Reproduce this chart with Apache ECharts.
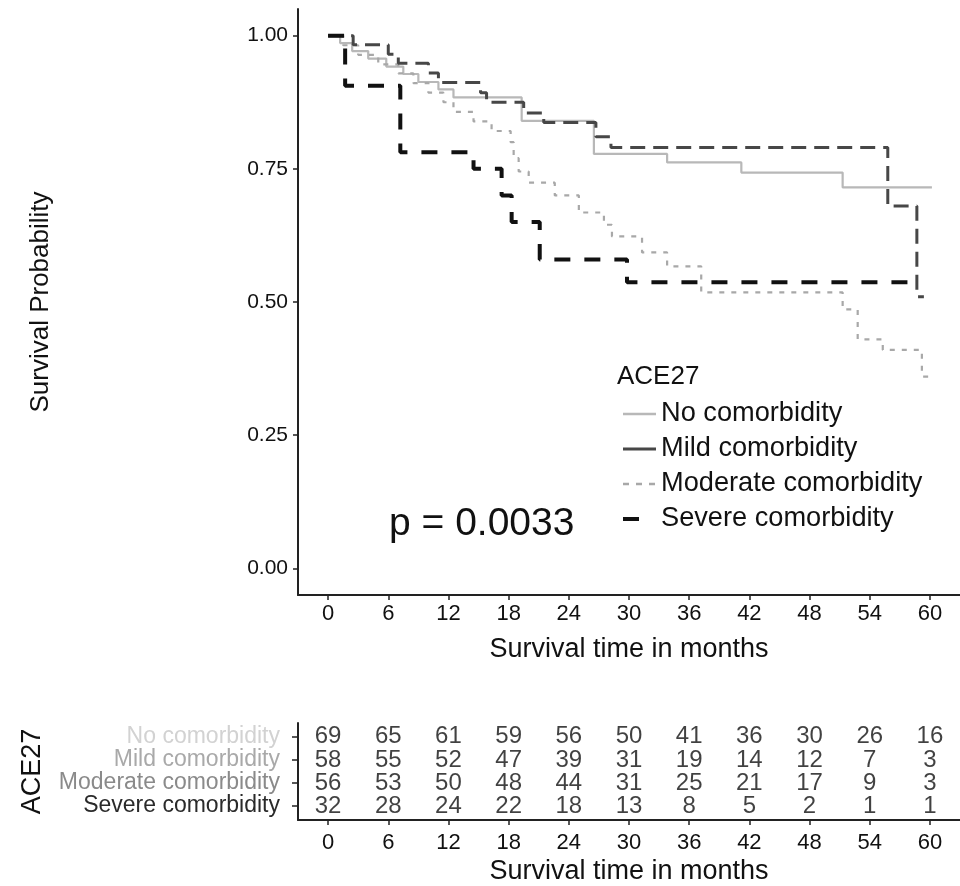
<!DOCTYPE html>
<html>
<head>
<meta charset="utf-8">
<script src="https://cdn.jsdelivr.net/npm/echarts@6/dist/echarts.min.js"></script>
<style>
  html, body { margin: 0; padding: 0; background: #fff; }
  #chart { width: 960px; height: 886px; }
</style>
</head>
<body>
<div id="chart"></div>
<script>
// Kaplan-Meier curves (months, survival)
const noTime = [0, 1.2, 2.4, 4, 5.8, 7.5, 9, 11, 12.5, 19.3, 26.5, 33.8, 41.2, 51.3, 60.2]
const noSurv = [1, 0.986, 0.971, 0.957, 0.942, 0.928, 0.913, 0.899, 0.884, 0.84, 0.778, 0.762, 0.743, 0.715, 0.715]

const mildTime = [0, 2.5, 6, 7, 10, 11, 15.2, 15.8, 19.5, 21.5, 26.7, 28.2, 55.8, 58.7, 59.4]
const mildSurv = [1, 0.983, 0.965, 0.948, 0.93, 0.912, 0.893, 0.875, 0.855, 0.837, 0.81, 0.79, 0.68, 0.51, 0.51]

const modTime = [0, 1.5, 3, 5, 7, 8.5, 10, 11.5, 12.5, 14.5, 16.3, 18.2, 18.5, 19, 20, 22.6, 25, 27.5, 28.3, 31.3, 33.8, 37.2, 51.3, 52.8, 55.3, 59.2, 60]
const modSurv = [1, 0.982, 0.964, 0.946, 0.929, 0.911, 0.893, 0.875, 0.857, 0.839, 0.821, 0.8, 0.77, 0.745, 0.724, 0.7, 0.668, 0.645, 0.623, 0.593, 0.567, 0.518, 0.486, 0.43, 0.41, 0.36, 0.36]

const sevTime = [0, 1.7, 7.2, 14.5, 17.3, 18.3, 21.1, 29.8, 59]
const sevSurv = [1, 0.906, 0.781, 0.75, 0.7, 0.65, 0.58, 0.537, 0.537]

// number at risk table
const riskTimes = [0, 6, 12, 18, 24, 30, 36, 42, 48, 54, 60]
const noRisk = [69, 65, 61, 59, 56, 50, 41, 36, 30, 26, 16]
const mildRisk = [58, 55, 52, 47, 39, 31, 19, 14, 12, 7, 3]
const modRisk = [56, 53, 50, 48, 44, 31, 25, 21, 17, 9, 3]
const sevRisk = [32, 28, 24, 22, 18, 13, 8, 5, 2, 1, 1]

const groups = ['No comorbidity', 'Mild comorbidity', 'Moderate comorbidity', 'Severe comorbidity']
const yTicks = [0, 0.25, 0.5, 0.75, 1]
const pText = 'p = 0.0033'

const FONT = '"Liberation Sans", Arial, Helvetica, sans-serif'
const AXIS_COLOR = '#222'

function pairs(xs, ys) {
  return xs.map((x, i) => [x, ys[i]])
}

function riskRows() {
  const rows = [noRisk, mildRisk, modRisk, sevRisk]
  const out = []
  rows.forEach((row, r) => {
    row.forEach((n, i) => {
      out.push([riskTimes[i], 4 - r, n])
    })
  })
  return out
}

const rowColors = ['#d2d2d2', '#a9a9a9', '#8a8a8a', '#2a2a2a']

const chart = echarts.init(document.getElementById('chart'), null, { renderer: 'canvas' })

const xCommon = {
  type: 'value',
  min: -3,
  max: 63,
  axisLine: { show: true, onZero: false, lineStyle: { color: AXIS_COLOR, width: 2 } },
  axisTick: { show: true, length: 5, customValues: riskTimes, lineStyle: { color: AXIS_COLOR, width: 1.5 } },
  splitLine: { show: false },
  nameLocation: 'middle',
  nameTextStyle: { fontFamily: FONT, fontSize: 27, color: '#111' }
}

chart.setOption({
  animation: false,
  backgroundColor: '#fff',
  textStyle: { fontFamily: FONT },
  grid: [
    { left: 298, top: 9, width: 668, height: 586 },
    { left: 298, top: 723, width: 668, height: 98 }
  ],
  xAxis: [
    Object.assign({}, xCommon, {
      gridIndex: 0,
      name: 'Survival time in months',
      nameGap: 41,
      axisLabel: { customValues: riskTimes, margin: 8, fontSize: 22, color: '#111', fontFamily: FONT }
    }),
    Object.assign({}, xCommon, {
      gridIndex: 1,
      name: 'Survival time in months',
      nameGap: 38,
      axisLabel: { customValues: riskTimes, margin: 12, fontSize: 22, color: '#111', fontFamily: FONT }
    })
  ],
  yAxis: [
    {
      type: 'value',
      gridIndex: 0,
      min: -0.05,
      max: 1.05,
      name: 'Survival Probability',
      nameLocation: 'middle',
      nameGap: 244,
      nameTextStyle: { fontFamily: FONT, fontSize: 26, color: '#111' },
      axisLine: { show: true, onZero: false, lineStyle: { color: AXIS_COLOR, width: 2 } },
      axisTick: { show: true, length: 5, customValues: yTicks, lineStyle: { color: AXIS_COLOR, width: 1.5 } },
      axisLabel: {
        customValues: yTicks,
        margin: 10,
        fontSize: 21,
        color: '#111',
        fontFamily: FONT,
        formatter: v => v.toFixed(2)
      },
      splitLine: { show: false }
    },
    {
      type: 'value',
      gridIndex: 1,
      min: 0.4,
      max: 4.6,
      name: 'ACE27',
      nameLocation: 'middle',
      nameGap: 252,
      nameTextStyle: { fontFamily: FONT, fontSize: 27, color: '#111' },
      axisLine: { show: true, onZero: false, lineStyle: { color: AXIS_COLOR, width: 2 } },
      axisTick: { show: true, length: 6, customValues: [1, 2, 3, 4], lineStyle: { color: AXIS_COLOR, width: 1.5 } },
      axisLabel: {
        customValues: [1, 2, 3, 4],
        margin: 18,
        fontFamily: FONT,
        formatter: v => '{r' + (4 - v) + '|' + groups[4 - v] + '}',
        rich: {
          r0: { color: rowColors[0], fontSize: 23, fontFamily: FONT },
          r1: { color: rowColors[1], fontSize: 23, fontFamily: FONT },
          r2: { color: rowColors[2], fontSize: 23, fontFamily: FONT },
          r3: { color: rowColors[3], fontSize: 23, fontFamily: FONT }
        }
      },
      splitLine: { show: false }
    }
  ],
  legend: {
    orient: 'vertical',
    left: 616,
    top: 394,
    itemWidth: 33,
    itemHeight: 14,
    itemGap: 5,
    itemStyle: { opacity: 0 },
    textStyle: { fontSize: 27.2, color: '#111', fontFamily: FONT, lineHeight: 30 },
    data: [
      { name: groups[0], lineStyle: { width: 2.5 } },
      { name: groups[1], lineStyle: { type: 'solid', width: 3 } },
      { name: groups[2], lineStyle: { type: [6, 7], width: 2.5 } },
      { name: groups[3], lineStyle: { type: [16, 30], width: 4 } }
    ]
  },
  graphic: [
    {
      type: 'text',
      left: 617,
      top: 364,
      style: { text: 'ACE27', fontSize: 26, fontFamily: FONT, fill: '#111' }
    },
    {
      type: 'text',
      left: 389,
      top: 505,
      style: { text: pText, fontSize: 39, fontFamily: FONT, fill: '#111' }
    }
  ],
  series: [
    {
      name: groups[0],
      type: 'line',
      step: 'end',
      symbol: 'none',
      data: pairs(noTime, noSurv),
      lineStyle: { color: '#b8b8b8', width: 2.2, type: 'solid' },
      itemStyle: { color: '#b8b8b8' },
      z: 2
    },
    {
      name: groups[1],
      type: 'line',
      step: 'end',
      symbol: 'none',
      data: pairs(mildTime, mildSurv),
      lineStyle: { color: '#474747', width: 3, type: [15, 8] },
      itemStyle: { color: '#474747' },
      z: 3
    },
    {
      name: groups[2],
      type: 'line',
      step: 'end',
      symbol: 'none',
      data: pairs(modTime, modSurv),
      lineStyle: { color: '#a8a8a8', width: 2.2, type: [5, 7] },
      itemStyle: { color: '#a8a8a8' },
      z: 2
    },
    {
      name: groups[3],
      type: 'line',
      step: 'end',
      symbol: 'none',
      data: pairs(sevTime, sevSurv),
      lineStyle: { color: '#111', width: 4, type: [16, 14] },
      itemStyle: { color: '#111' },
      z: 4
    },
    {
      name: 'risk',
      type: 'scatter',
      xAxisIndex: 1,
      yAxisIndex: 1,
      symbolSize: 1,
      itemStyle: { color: 'rgba(0,0,0,0)' },
      data: riskRows(),
      label: {
        show: true,
        position: 'inside',
        formatter: p => String(p.value[2]),
        fontSize: 24,
        fontFamily: FONT,
        color: '#111'
      },
      z: 5
    }
  ]
})
</script>
</body>
</html>
